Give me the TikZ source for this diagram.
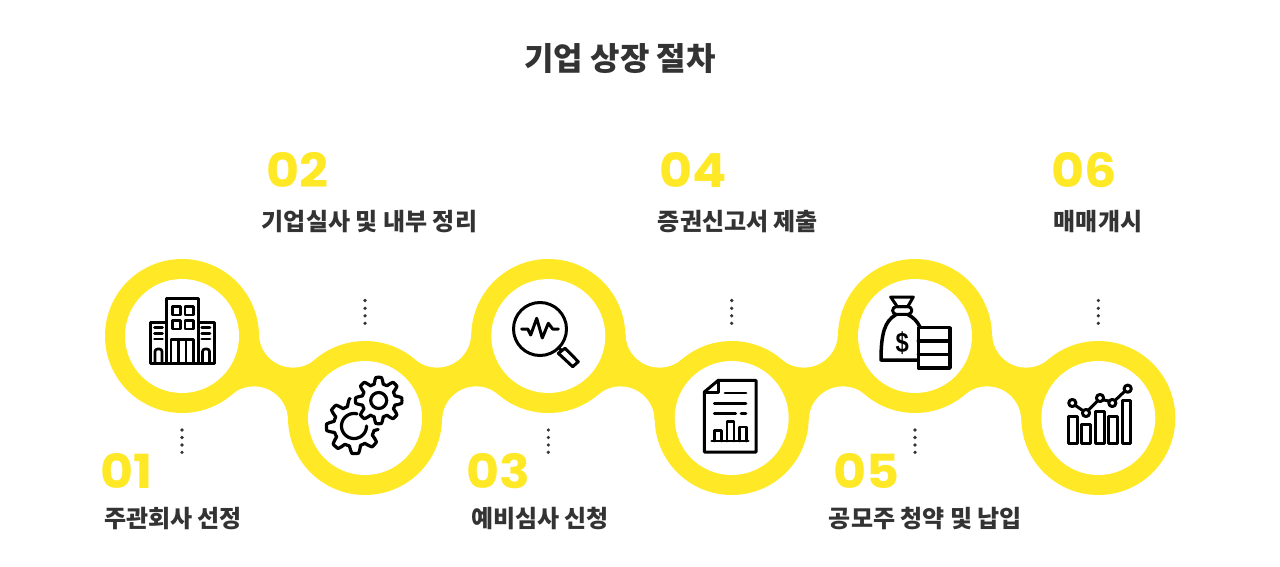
\documentclass[tikz,border=0pt]{standalone}
\usepackage{fontspec}
\newfontfamily\ko{Noto Sans CJK KR}
\newfontfamily\num[FakeStretch=1.08]{Poppins}
\newfontfamily\lib[FakeStretch=0.85]{Liberation Sans}
\definecolor{yel}{HTML}{FFE826}
\definecolor{ink}{HTML}{333333}
\tikzset{
  icon/.style={draw=black,line width=3pt,line join=round,line cap=round},
  iconthin/.style={draw=black,line width=2.7pt,line join=round,line cap=round},
  label/.style={inner sep=0pt,text=ink,font={\ko\bfseries\fontsize{24}{28}\selectfont}},
  numb/.style={inner sep=0pt,anchor=base west,text=yel,font={\num\bfseries\fontsize{47}{50}\selectfont}},
  dot/.style={fill=ink,circle,inner sep=0pt,minimum size=3.6pt},
}
\begin{document}
\begin{tikzpicture}[x=1pt,y=-1pt]
\useasboundingbox (0,0) rectangle (1280,567);
\fill[white] (0,0) rectangle (1280,567);
% ribbon joints: ring centre, upper fillet centre, next ring centre, lower fillet centre
\foreach \a/\ya/\b/\yb/\tx/\bx in {182/336/365/418/293/254,365/418/548.3/336/437.15/476.15,548.3/336/731.7/418/659.5/620.5,731.7/418/915/336/803.85/842.85,915/336/1098.3/418/1026.15/987.15}{
  \fill[yel] (\a,\ya) -- (\tx,333.6) -- (\b,\yb) -- (\bx,420.4) -- cycle;
  \fill[white] (\tx,333.6) circle[radius=34];
  \fill[white] (\bx,420.4) circle[radius=34];
}
% rings
\foreach \cx/\cy in {182/336,365/418,548.3/336,731.7/418,915/336,1098.3/418}{
  \fill[yel] (\cx,\cy) circle[radius=77];
  \fill[white] (\cx,\cy) circle[radius=57];
}
% dots
\foreach \dx in {182,548.3,915}{\foreach \dy in {430,437.5,445,452.3}{\node[dot] at (\dx,\dy) {};}}
\foreach \dx in {365,731.7,1098.3}{\foreach \dy in {300.5,308.3,315.8,323.3}{\node[dot] at (\dx,\dy) {};}}
% title
\node[inner sep=0pt,text=ink,font={\ko\bfseries\fontsize{32}{36}\selectfont}] (title) at (620,58.5) {기업 상장 절차};
% numbers
\node[numb] (n1) at (100,488) {01};
\node[numb] (n2) at (266,187) {02};
\node[numb] (n3) at (466,488) {03};
\node[numb] (n4) at (659,187) {04};
\node[numb] (n5) at (833,488) {05};
\node[numb] (n6) at (1051,187) {06};
% labels
\node[label] (l1) at (173,518.5) {주관회사 선정};
\node[label] (l2) at (369.5,221.5) {기업실사 및 내부 정리};
\node[label] (l3) at (540,518.5) {예비심사 신청};
\node[label] (l4) at (738,221.5) {증권신고서 제출};
\node[label] (l5) at (925.5,518.5) {공모주 청약 및 납입};
\node[label] (l6) at (1098,221.5) {매매개시};
% building
\draw[icon] (166,363.3) -- (166,298.7) -- (198.5,298.7) -- (198.5,363.3);
\draw[icon] (166,322.3) -- (150,322.3) -- (150,363.3) -- (214.3,363.3) -- (214.3,322.3) -- (198.5,322.3);
\draw[iconthin] (172.3,306.7) rectangle (180.7,315) (185,306.7) rectangle (193.3,315)
  (172.3,320.7) rectangle (180.7,329) (185,320.7) rectangle (193.3,329);
\draw[iconthin] (171,363.3) -- (171,339.3) -- (193.3,339.3) -- (193.3,363.3) (178.3,339.3) -- (178.3,363.3) (186,339.3) -- (186,363.3);
\draw[iconthin] (154.5,327.5) -- (162.5,327.5) (154.5,333.3) -- (162.5,333.3) (154.5,339) -- (162.5,339)
  (201.7,327.5) -- (210,327.5) (201.7,333.3) -- (210,333.3) (201.7,339) -- (210,339);
\draw[iconthin,rounded corners=2.5pt] (155,363.3) -- (155,349) -- (162,349) -- (162,363.3);
\draw[iconthin,rounded corners=2.5pt] (202.5,363.3) -- (202.5,349) -- (209.5,349) -- (209.5,363.3);
% gears
\draw[icon,line width=3.2pt,smooth] plot[domain=8:262,samples=220,variable=\t]
  ({354+(24+3.6*max(-1,min(1,1.7*cos(8*\t+22))))*cos(\t)},{426+(24+3.6*max(-1,min(1,1.7*cos(8*\t+22))))*sin(\t)});
\draw[icon,line width=3.2pt] plot[domain=0:284,samples=60,variable=\t] ({354+12.5*cos(\t)},{426+12.5*sin(\t)});
\draw[icon,line width=3.2pt,smooth] plot[domain=0:360,samples=260,variable=\t]
  ({378.7+(20+3.2*max(-1,min(1,1.7*cos(8*\t))))*cos(\t)},{400.5+(20+3.2*max(-1,min(1,1.7*cos(8*\t))))*sin(\t)}) -- cycle;
\draw[icon,line width=3.2pt] (378.7,400.5) circle[radius=8];
% magnifier
\draw[icon] (540,329) circle[radius=26.5];
\draw[icon] (558.5,347.5) -- (561.5,350.5);
\draw[icon] (565,348.3) -- (578.3,361.7) -- (572.7,366.7) -- (558.3,353.3) -- cycle;
\draw[icon] (521.7,329) -- (527.7,329) -- (530.7,335) -- (536.7,318.3) -- (542.3,338) -- (548.3,323.3) -- (552.7,329) -- (558.3,329);
% document
\draw[icon] (704.3,392) -- (718.3,380.3) -- (756,380.3) -- (756,452) -- (704.3,452) -- cycle;
\draw[icon] (718.3,380.3) -- (718.3,392) -- (704.3,392);
\draw[iconthin] (725,393) -- (746,393) (714.3,403.7) -- (746,403.7) (714.3,413.7) -- (735.7,413.7) (741,413.7) -- (746,413.7) (711.7,441) -- (748.3,441);
\draw[iconthin] (714.8,441) -- (714.8,430.3) -- (721.7,430.3) -- (721.7,441)
  (727,441) -- (727,421.3) -- (734,421.3) -- (734,441)
  (739.5,441) -- (739.5,427) -- (746.5,427) -- (746.5,441);
% money bag
\draw[icon] (890.7,297) -- (913.3,297) -- (907.7,306.7) -- (897.3,306.7) -- cycle;
\draw[icon,rounded corners=3.5pt] (892.7,306.7) rectangle (911.7,314.3);
\draw[icon,line width=3.5pt] (895.5,315) .. controls (885,321) and (881,333) .. (881,360) -- (918.3,360);
\draw[icon,line width=3.5pt] (908.3,315) .. controls (913,317) and (917,321) .. (920,327);
\draw[icon,line width=3.5pt] (918.3,327.7) rectangle (950,368);
\draw[icon,line width=3.5pt] (918.3,341) -- (950,341) (918.3,354.3) -- (950,354.3);
\node[inner sep=0pt,text=black,font={\lib\bfseries\fontsize{28}{30}\selectfont}] (dollar) at (902.3,343) {\$};
% chart
\draw[icon] (1068.3,443) rectangle (1077.3,416.3) (1081.7,443) rectangle (1090.7,424.7)
  (1095,443) rectangle (1104.3,411.3) (1108.3,443) rectangle (1117.3,416.3) (1122.3,443) rectangle (1130.7,400.7);
\draw[icon] (1075.5,405.5) -- (1082.7,410.5) (1088.5,410) -- (1097.5,401) (1103.7,400) -- (1108.7,401) (1115.5,400) -- (1124.5,391.5);
\foreach \px/\py in {1072.3/403,1086/413,1100/398,1112.3/403,1127.7/388.7}{
  \draw[icon,fill=white] (\px,\py) circle[radius=3.6];
}
\end{tikzpicture}
\end{document}
